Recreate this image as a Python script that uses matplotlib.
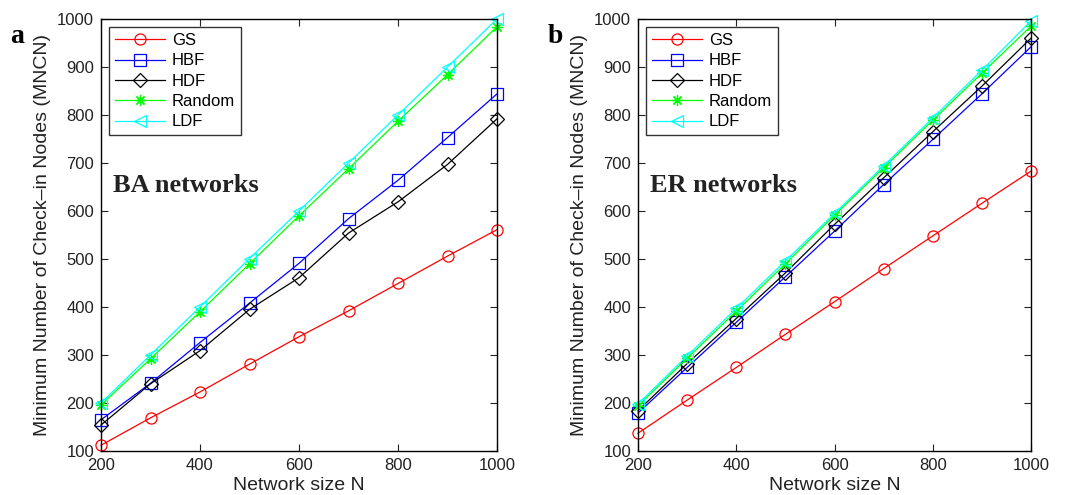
import numpy as np
import matplotlib.pyplot as plt

plt.rcParams['font.family'] = ['Liberation Sans', 'DejaVu Sans']

# Data
N = [200, 300, 400, 500, 600, 700, 800, 900, 1000]

ba_gs = [112, 169, 223, 281, 338, 392, 449, 506, 561]
ba_hbf = [165, 241, 326, 408, 491, 584, 664, 753, 844]
ba_hdf = [154, 240, 309, 395, 461, 554, 619, 697, 792]
ba_random = [196, 292, 390, 490, 590, 688, 787, 884, 984]
ba_ldf = [200, 300, 400, 501, 600, 700, 800, 900, 1000]

er_gs = [137, 206, 274, 343, 411, 480, 548, 616, 683]
er_hbf = [179, 274, 368, 463, 558, 655, 749, 844, 942]
er_hdf = [184, 282, 376, 471, 572, 669, 765, 860, 960]
er_random = [194, 293, 391, 490, 591, 690, 789, 887, 985]
er_ldf = [198, 298, 397, 496, 595, 694, 794, 893, 996]

labels = ["GS", "HBF", "HDF", "Random", "LDF"]
colors = ["#ff0000", "#0000ff", "#000000", "#00ff00", "#00ffff"]
# (8, 2, 0) -> asterisk like matlab's '*'
markers = ["o", "s", "D", (8, 2, 0), "<"]
msizes = [8, 8, 7, 8, 8]

fig = plt.figure(figsize=(10.84, 4.95), dpi=100)
ax1 = fig.add_axes([101 / 1084, 1 - 451 / 495, 396 / 1084, 432 / 495])
ax2 = fig.add_axes([638 / 1084, 1 - 451 / 495, 393 / 1084, 432 / 495])

panels = [
    (ax1, [ba_gs, ba_hbf, ba_hdf, ba_random, ba_ldf], "BA networks", "a"),
    (ax2, [er_gs, er_hbf, er_hdf, er_random, er_ldf], "ER networks", "b"),
]

for ax, series, name, letter in panels:
    for vals, lab, c, m, ms in zip(series, labels, colors, markers, msizes):
        ax.plot(N, vals, color=c, marker=m, markersize=ms, markerfacecolor='none',
                markeredgecolor=c, linewidth=0.9, markeredgewidth=0.9, label=lab,
                clip_on=False)
    ax.set_xlim(200, 1000)
    ax.set_ylim(100, 1000)
    ax.set_xticks(range(200, 1001, 200))
    ax.set_yticks(range(100, 1001, 100))
    ax.tick_params(direction='in', top=True, right=True, labelsize=12, length=5,
                   colors='#222222', pad=5)
    for s in ax.spines.values():
        s.set_linewidth(1.0)
    ax.set_xlabel("Network size N", fontsize=14, labelpad=3, color='#222222')
    ax.set_ylabel("Minimum Number of Check\u2013in Nodes (MNCN)", fontsize=14,
                  labelpad=4, color='#222222')
    leg = ax.legend(loc='upper left', fontsize=12, frameon=True, fancybox=False,
                    edgecolor='black', borderaxespad=0.5, handlelength=3.0,
                    handletextpad=0.4, labelspacing=0.32, borderpad=0.35)
    leg.get_frame().set_linewidth(1.0)
    ax.text(0.03, 0.615, name, transform=ax.transAxes, fontsize=19,
            fontweight='bold', family='Liberation Serif', color='#222222',
            va='center')
    ax.text(-0.23, 0.96, letter, transform=ax.transAxes, fontsize=20,
            fontweight='bold', family='Liberation Serif', va='center')

fig.savefig("out.png", dpi=100)
